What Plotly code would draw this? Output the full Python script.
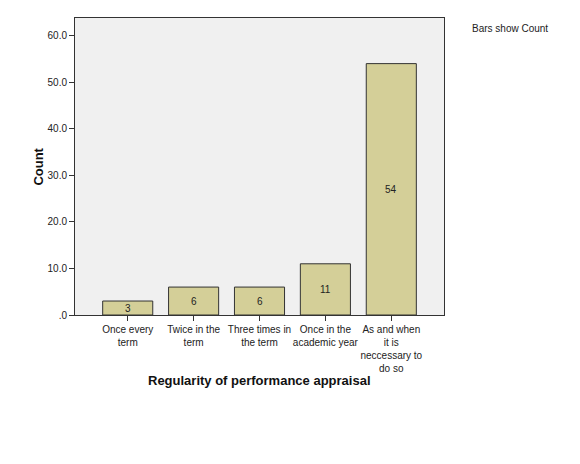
import plotly.graph_objects as go

categories = ["Once every<br>term", "Twice in the<br>term", "Three times in<br>the term",
              "Once in the<br>academic year", "As and when<br>it is<br>neccessary to<br>do so"]
counts = [3, 6, 6, 11, 54]
tick_vals = [0, 10, 20, 30, 40, 50, 60]
tick_text = [".0", "10.0", "20.0", "30.0", "40.0", "50.0", "60.0"]

fig = go.Figure(go.Bar(x=list(range(len(categories))), y=counts, width=0.76,
                       marker=dict(color="#D4CF98", line=dict(color="#333333", width=1))))
for i, v in enumerate(counts):
    fig.add_annotation(x=i, y=v / 2, text=str(v), showarrow=False,
                       font=dict(size=10, color="#222"))
fig.add_annotation(xref="paper", yref="paper", x=1.07, y=0.99, xanchor="left", yanchor="top",
                   text="Bars show Count", showarrow=False, font=dict(size=10, color="#222"))
fig.add_annotation(xref="paper", yref="paper", x=0.5, y=-0.19, xanchor="center", yanchor="top",
                   text="<b>Regularity of performance appraisal</b>", showarrow=False,
                   font=dict(size=13, color="#111"))
fig.add_annotation(xref="paper", yref="paper", x=-0.1, y=0.5, xanchor="center", yanchor="middle",
                   text="<b>Count</b>", textangle=-90, showarrow=False,
                   font=dict(size=13, color="#111"))
fig.update_layout(
    width=580, height=464, margin=dict(l=67, r=144, t=10, b=157),
    paper_bgcolor="white", plot_bgcolor="#F0F0F0",
    font=dict(family="Liberation Sans, Arial", size=10, color="#222"),
    showlegend=False,
)
fig.update_xaxes(tickvals=list(range(len(categories))), ticktext=categories, range=[-0.8, 4.8],
                 tickangle=0, automargin=False,
                 ticks="outside", ticklen=5, tickcolor="#333", showline=True, linecolor="#333",
                 mirror=True, showgrid=False, zeroline=False)
fig.update_yaxes(tickvals=tick_vals, ticktext=tick_text, range=[0, 63.8], automargin=False,
                 ticks="outside", ticklen=5, tickcolor="#333", showline=True, linecolor="#333",
                 mirror=True, showgrid=False, zeroline=False)
fig.write_html("out.html")
